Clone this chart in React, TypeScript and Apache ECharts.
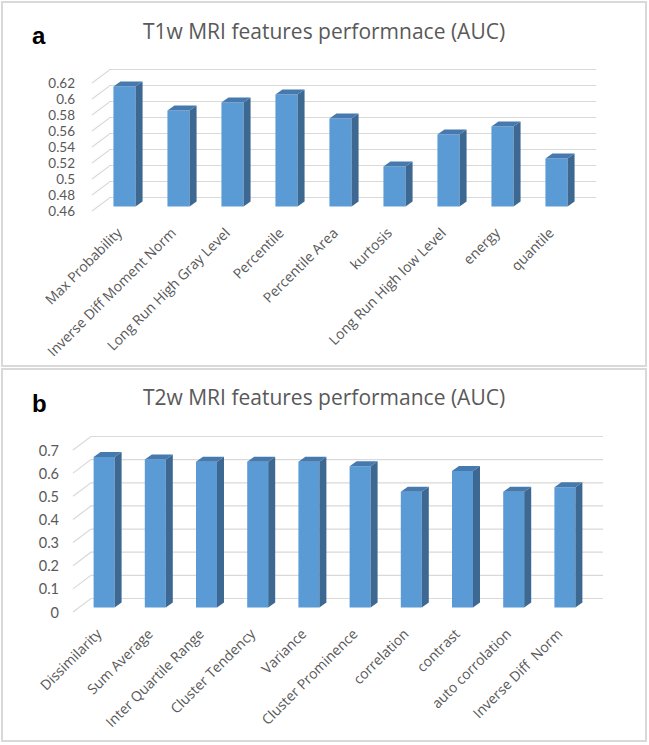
import React, { useEffect, useRef } from "react";
import * as echarts from "echarts";

// Panel a – T1w
const catsA = [
  "Max Probability",
  "Inverse Diff Moment Norm",
  "Long Run High Gray Level",
  "Percentile",
  "Percentile Area",
  "kurtosis",
  "Long Run High low Level",
  "energy",
  "quantile",
];
const valsA = [0.61, 0.58, 0.59, 0.6, 0.57, 0.51, 0.55, 0.56, 0.52];
const ticksA = [0.46, 0.48, 0.5, 0.52, 0.54, 0.56, 0.58, 0.6, 0.62];

// Panel b – T2w
const catsB = [
  "Dissimilarity",
  "Sum Average",
  "Inter Quartile Range",
  "Cluster Tendency",
  "Variance",
  "Cluster Prominence",
  "correlation",
  "contrast",
  "auto corrolation",
  "Inverse Diff  Norm",
];
const valsB = [0.65, 0.64, 0.63, 0.63, 0.63, 0.61, 0.5, 0.59, 0.5, 0.52];
const ticksB = [0, 0.1, 0.2, 0.3, 0.4, 0.5, 0.6, 0.7];

const titleA = "T1w MRI features performnace (AUC)";
const titleB = "T2w MRI features performance (AUC)";

const TEXT = "#595959";
const GRID = "#d9d9d9";
const FONT = "'Open Sans', sans-serif";
const TICK_FONT = "Lato, 'Open Sans', sans-serif";

// depth of the 3D box (back wall offset from front plane)
const DX = 18;
const DY = 13.5;
// bar front-face offset and bar depth
const BX = 5.5;
const BY = 4.5;
const SX = 7;
const SY = 5;

function wallSeries(idx: number, ticks: number[]) {
  return {
    type: "custom",
    xAxisIndex: idx,
    yAxisIndex: idx,
    z: 1,
    silent: true,
    encode: { x: 0, y: 1 },
    data: ticks.map((v) => [0, v]),
    renderItem: (params: any, api: any) => {
      const v = api.value(1);
      const y = api.coord([0, v])[1];
      const cs = params.coordSys;
      const x0 = cs.x;
      const x1 = cs.x + cs.width;
      return {
        type: "polyline",
        shape: {
          points: [
            [x0, y],
            [x0 + DX, y - DY],
            [x1 + DX, y - DY],
          ],
        },
        style: { stroke: GRID, lineWidth: 1.2, fill: null },
      };
    },
  };
}

function barSeries(idx: number, vals: number[], min: number) {
  return {
    type: "custom",
    xAxisIndex: idx,
    yAxisIndex: idx,
    z: 5,
    encode: { x: 0, y: 1 },
    data: vals.map((v, i) => [i, v]),
    renderItem: (params: any, api: any) => {
      const i = api.value(0);
      const v = api.value(1);
      const top = api.coord([i, v]);
      const base = api.coord([i, min]);
      const band = api.size([1, 0])[0];
      const w = band * 0.41;
      const x = top[0] - w / 2 + BX;
      const yT = top[1] - BY;
      const yB = base[1] - BY;
      return {
        type: "group",
        children: [
          {
            type: "rect",
            shape: { x, y: yT, width: w, height: yB - yT },
            style: { fill: "#5B9BD5" },
          },
          {
            type: "polygon",
            shape: {
              points: [
                [x + w, yT],
                [x + w + SX, yT - SY],
                [x + w + SX, yB - SY],
                [x + w, yB],
              ],
            },
            style: { fill: "#3C6892" },
          },
          {
            type: "polygon",
            shape: {
              points: [
                [x, yT],
                [x + SX, yT - SY],
                [x + w + SX, yT - SY],
                [x + w, yT],
              ],
            },
            style: { fill: "#4679AD" },
          },
        ],
      };
    },
  };
}

function xAx(idx: number, cats: string[], margin: number) {
  return {
    gridIndex: idx,
    type: "category",
    data: cats,
    axisLine: { show: false },
    axisTick: { show: false },
    splitLine: { show: false },
    axisLabel: {
      rotate: 45,
      interval: 0,
      margin,
      fontSize: 14,
      color: TEXT,
      fontFamily: FONT,
    },
  };
}

function yAx(
  idx: number,
  min: number,
  max: number,
  interval: number,
  margin: number,
  fontSize: number
) {
  return {
    gridIndex: idx,
    type: "value",
    min,
    max,
    interval,
    axisLine: { show: false },
    axisTick: { show: false },
    splitLine: { show: false },
    axisLabel: {
      margin,
      fontSize,
      lineHeight: fontSize,
      color: TEXT,
      fontFamily: TICK_FONT,
    },
  };
}

export default function App() {
  const ref = useRef<HTMLDivElement>(null);
  useEffect(() => {
    if (!ref.current) return;
    const chart = echarts.init(ref.current, null, { renderer: "svg" });
    chart.setOption({
      animation: false,
      backgroundColor: "#ffffff",
      grid: [
        { left: 92, top: 83, width: 486, height: 128 },
        { left: 73, top: 450, width: 512, height: 162 },
      ],
      xAxis: [xAx(0, catsA, 19), xAx(1, catsB, 19)],
      yAxis: [yAx(0, 0.46, 0.62, 0.02, 17, 13.5), yAx(1, 0, 0.7, 0.1, 14, 14.5)],
      series: [
        wallSeries(0, ticksA),
        barSeries(0, valsA, 0.46),
        wallSeries(1, ticksB),
        barSeries(1, valsB, 0),
      ],
      graphic: [
        {
          type: "rect",
          shape: { x: 2, y: 2, width: 644, height: 364 },
          style: { fill: "none", stroke: GRID, lineWidth: 2 },
          z: 0,
        },
        {
          type: "rect",
          shape: { x: 2, y: 369, width: 644, height: 372 },
          style: { fill: "none", stroke: GRID, lineWidth: 2 },
          z: 0,
        },
        {
          type: "text",
          x: 32,
          y: 47,
          style: {
            text: "a",
            fontSize: 24,
            fontWeight: "bold",
            fontFamily: "'Liberation Sans', Arial, sans-serif",
            fill: "#000",
            verticalAlign: "bottom",
          },
        },
        {
          type: "text",
          x: 32,
          y: 415,
          style: {
            text: "b",
            fontSize: 24,
            fontWeight: "bold",
            fontFamily: "'Liberation Sans', Arial, sans-serif",
            fill: "#000",
            verticalAlign: "bottom",
          },
        },
        {
          type: "text",
          x: 324,
          y: 31,
          style: {
            text: titleA,
            fontSize: 21,
            fontFamily: FONT,
            fill: TEXT,
            align: "center",
            verticalAlign: "middle",
          },
        },
        {
          type: "text",
          x: 324,
          y: 397,
          style: {
            text: titleB,
            fontSize: 21,
            fontFamily: FONT,
            fill: TEXT,
            align: "center",
            verticalAlign: "middle",
          },
        },
      ],
    });
    return () => chart.dispose();
  }, []);
  return (
    <div
      ref={ref}
      style={{ position: "fixed", left: 0, top: 0, width: 649, height: 745, background: "#fff" }}
    />
  );
}
